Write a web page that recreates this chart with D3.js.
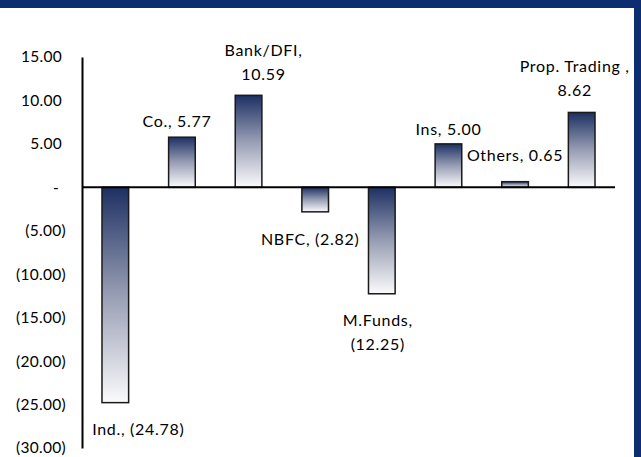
<!DOCTYPE html>
<html>

<head>
  <script src="https://d3js.org/d3.v7.min.js"></script>
  <style>
    body { margin: 0; background: #fff; }
    text { font-family: Lato, "Noto Sans", sans-serif; fill: #000; }
  </style>
</head>

<body>
  <script>
    // data
    const categories = ["Ind.", "Co.", "Bank/DFI", "NBFC", "M.Funds", "Ins", "Others", "Prop. Trading "];
    const values = [-24.78, 5.77, 10.59, -2.82, -12.25, 5.00, 0.65, 8.62];
    const yTicks = [15, 10, 5, 0, -5, -10, -15, -20, -25, -30];
    // how each label breaks into lines (1 = one line, 2 = name and value on two lines)
    const labelLines = [1, 1, 2, 1, 2, 1, 1, 2];

    // layout: small hand nudges for labels (dx, dy), like Excel's moved labels
    const labelNudge = [[23, 0], [-5, 0], [15, -5], [-5, 1], [-4, 0], [0, 1], [0, -11], [-7, -6]];

    const width = 641;
    const height = 457;

    const svg = d3.select("body")
      .append("svg")
      .attr("width", width)
      .attr("height", height);

    // frame strips
    svg.append("rect").attr("x", 0).attr("y", 0).attr("width", width).attr("height", 8).attr("fill", "#0c2d70");
    svg.append("rect").attr("x", 634).attr("y", 0).attr("width", 7).attr("height", height).attr("fill", "#0c2d70");

    const defs = svg.append("defs");
    const grad = defs.append("linearGradient")
      .attr("id", "barGrad")
      .attr("x1", 0).attr("y1", 0).attr("x2", 0).attr("y2", 1);
    grad.append("stop").attr("offset", "0%").attr("stop-color", "#1d3063");
    grad.append("stop").attr("offset", "50%").attr("stop-color", "#979db3");
    grad.append("stop").attr("offset", "100%").attr("stop-color", "#fbfbfc");

    const x = d3.scaleBand()
      .domain(categories)
      .range([82, 615])
      .paddingInner(0.6)
      .paddingOuter(0.3);

    const y = d3.scaleLinear()
      .domain([-30, 15])
      .range([448, 57]);

    // y axis labels (accounting format)
    const fmt = v => v === 0 ? "-" : v < 0 ? "(" + d3.format(".2f")(-v) + ")" : d3.format(".2f")(v);
    const yAxis = d3.axisLeft(y)
      .tickValues(yTicks)
      .tickFormat(fmt)
      .tickSize(0)
      .tickPadding(16);

    const gy = svg.append("g")
      .attr("transform", "translate(82,0)")
      .call(yAxis);
    gy.select(".domain").attr("stroke", "#000").attr("stroke-width", 2);
    gy.selectAll(".tick text")
      .style("font-size", "15.5px")
      .style("letter-spacing", "0.3px")
      .attr("dx", d => d < 0 ? 0 : d === 0 ? -7 : -4);

    // bars
    svg.selectAll("rect.bar")
      .data(values)
      .join("rect")
      .attr("class", "bar")
      .attr("x", (d, i) => x(categories[i]))
      .attr("width", x.bandwidth())
      .attr("y", d => y(Math.max(0, d)))
      .attr("height", d => Math.abs(y(d) - y(0)))
      .attr("fill", "url(#barGrad)")
      .attr("stroke", "#1a1a1a")
      .attr("stroke-width", 1.5);

    // zero line
    svg.append("line")
      .attr("x1", 82).attr("x2", 615)
      .attr("y1", y(0)).attr("y2", y(0))
      .attr("stroke", "#000")
      .attr("stroke-width", 2);

    // data labels
    const labels = svg.append("g");
    values.forEach((v, i) => {
      const name = categories[i] + ",";
      const val = fmt(v);
      const lines = labelLines[i] === 2 ? [name, val] : [name + " " + val];
      const cx = x(categories[i]) + x.bandwidth() / 2 + labelNudge[i][0];
      const lh = 24;
      let firstY;
      if (v >= 0) {
        firstY = y(v) - 17 - (lines.length - 1) * lh + labelNudge[i][1];
      } else {
        firstY = y(v) + 25 + labelNudge[i][1];
      }
      const t = labels.append("text")
        .attr("text-anchor", "middle")
        .attr("dominant-baseline", "central")
        .style("font-size", "16px")
        .style("letter-spacing", "0.7px")
        .style("white-space", "pre");
      lines.forEach((s, k) => {
        t.append("tspan")
          .attr("x", cx)
          .attr("y", firstY + k * lh)
          .text(s);
      });
    });
  </script>
</body>

</html>
